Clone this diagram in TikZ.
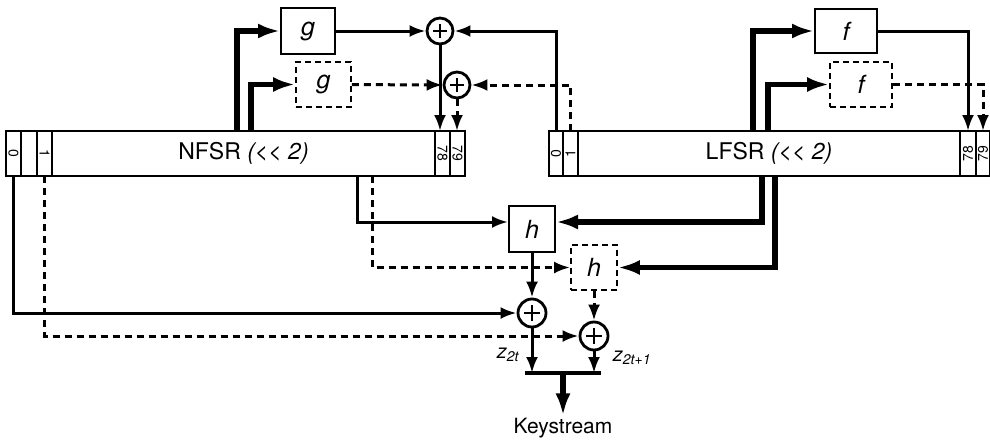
\documentclass[tikz,border=0pt]{standalone}
\usepackage{fontspec}
\usepackage{graphicx}
\setmainfont{TeX Gyre Heros}
\usetikzlibrary{positioning,arrows.meta}

\newcommand{\celltext}[2]{\rotatebox{#1}{#2}}

\tikzset{
	cell/.style={draw, line width=2pt, outer sep=0pt, inner sep=0pt, minimum height=45pt, minimum width=15pt, font=\fontsize{14}{14}\selectfont},
	reg/.style={cell, font=\fontsize{23}{25}\selectfont},
	fbox/.style={draw, line width=2pt, inner sep=0pt, font=\fontsize{25}{27}\selectfont\itshape},
	fdash/.style={fbox, line width=1.8pt, dash pattern=on 6pt off 4pt},
	xor/.style={circle, draw, line width=2.8pt, minimum size=26pt, inner sep=0pt,
		path picture={\draw[line width=2.8pt] ([yshift=-6pt]path picture bounding box.north) -- ([yshift=6pt]path picture bounding box.south)
			([xshift=6pt]path picture bounding box.west) -- ([xshift=-6pt]path picture bounding box.east);}},
	conn/.style={line width=3pt, -{Latex[length=16pt,width=12pt]}},
	bus/.style={line width=5.5pt, -{Latex[length=22pt,width=15pt]}},
	dconn/.style={conn, dash pattern=on 7pt off 5pt},
}

\begin{document}
\begin{tikzpicture}[x=1pt, y=-1pt]
	\useasboundingbox (0,0) rectangle (990,439);

	% NFSR
	\node[cell] (nf0) at (13.5,153.5) {\celltext{-90}{0}};
	\node[cell, minimum width=16pt, right=0pt of nf0] (nfe) {};
	\node[cell, right=0pt of nfe] (nf1) {\celltext{-90}{1}};
	\node[reg, minimum width=383pt, right=0pt of nf1] (nfsr) {NFSR \textit{(<{}<~2)}};
	\node[cell, right=0pt of nfsr] (nf78) {\celltext{-90}{78}};
	\node[cell, right=0pt of nf78] (nf79) {\celltext{-90}{79}};

	% LFSR
	\node[cell, minimum width=14pt] (lf0) at (556,153.5) {\celltext{90}{0}};
	\node[cell, right=0pt of lf0] (lf1) {\celltext{90}{1}};
	\node[reg, minimum width=382pt, right=0pt of lf1] (lfsr) {LFSR \textit{(<{}<~2)}};
	\node[cell, minimum width=16pt, right=0pt of lfsr] (lf78) {\celltext{90}{78}};
	\node[cell, minimum width=14pt, right=0pt of lf78] (lf79) {\celltext{90}{79}};

	% functions
	\node[fbox, minimum width=54pt, minimum height=46pt] (g) at (308,31) {g};
	\node[fdash, minimum width=55pt, minimum height=45pt] (gd) at (323.5,84.5) {g};
	\node[fbox, minimum width=62pt, minimum height=44pt] (f) at (846,31) {f};
	\node[fdash, minimum width=62pt, minimum height=45pt] (fd) at (861,84.5) {f};
	\node[fbox, minimum width=46pt, minimum height=46pt] (h) at (532,229) {h};
	\node[fdash, minimum width=46pt, minimum height=45pt] (hd) at (594,267.5) {h};

	% adders
	\node[xor] (x1) at (440,31) {};
	\node[xor] (x2) at (457,85) {};
	\node[xor, minimum size=28pt] (x3) at (532,313) {};
	\node[xor, minimum size=28pt] (x4) at (594,336) {};

	% output
	\coordinate (kl) at (525,373);
	\coordinate (kr) at (601,373);
	\coordinate (km) at (563,373);
	\node[anchor=base, inner sep=2pt, font=\fontsize{21}{23}\selectfont] (ks) at (563,433) {Keystream};
	\node[font=\fontsize{20}{22}\selectfont\itshape] (z0) at (508,355) {z\textsubscript{2t}};
	\node[font=\fontsize{20}{22}\selectfont\itshape] (z1) at (632,358) {z\textsubscript{2t+1}};

	% feedback NFSR
	\draw[bus] ([xshift=-6.5pt]nfsr.north) |- (g);
	\draw[bus] ([xshift=7.5pt]nfsr.north) |- (gd);
	\draw[conn] (g) -- (x1);
	\draw[dconn] (gd) -- (x2);
	\draw[conn] (x1) -- (x1 |- nf78.north);
	\draw[dconn] (x2) -- (x2 |- nf79.north);
	\draw[conn] (lf0.north) |- (x1);
	\draw[dconn] (lf1.north) |- (x2);

	% feedback LFSR
	\draw[bus] ([xshift=-16pt]lfsr.north) |- (f);
	\draw[bus] ([xshift=-1pt]lfsr.north) |- (fd);
	\draw[conn] (f) -| (lf78.north);
	\draw[dconn] (fd) -| (lf79.north);

	% filter
	\draw[conn] ([xshift=113.5pt]nfsr.south) |- ([yshift=7pt]h.west);
	\draw[dconn] ([xshift=128.5pt]nfsr.south) |- (hd);
	\draw[bus] ([xshift=-7pt]lfsr.south) |- ([yshift=7pt]h.east);
	\draw[bus] ([xshift=6pt]lfsr.south) |- (hd);
	\draw[conn] (h) -- (x3);
	\draw[dconn] (hd) -- (x4);
	\draw[conn] (nf0.south) |- (x3);
	\draw[dconn] (nf1.south) |- (x4);

	% keystream
	\draw[conn] (x3) -- (x3 |- kl);
	\draw[dconn] (x4) -- (x4 |- kl);
	\draw[line width=3.5pt] (kl) -- (kr);
	\draw[bus] (km) -- (ks.north);
\end{tikzpicture}
\end{document}
